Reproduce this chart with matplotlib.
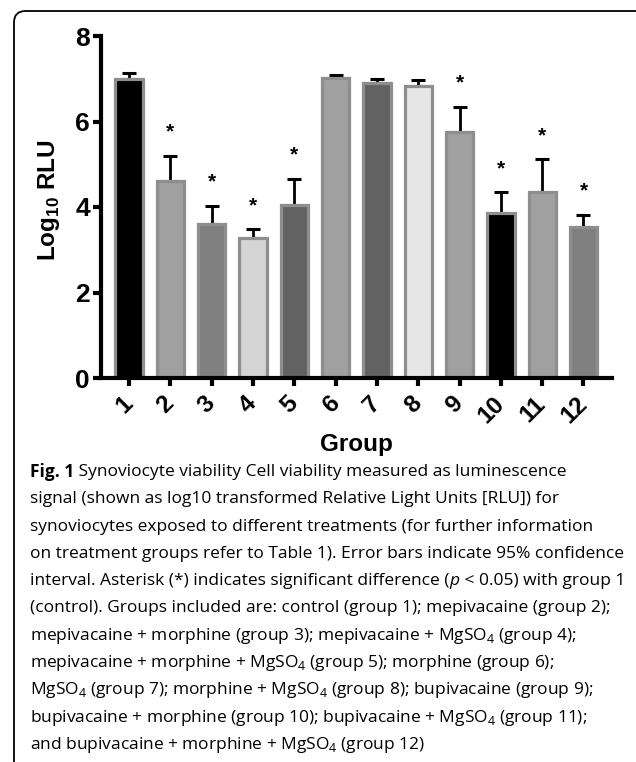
import matplotlib
matplotlib.use("Agg")
import matplotlib.pyplot as plt
from matplotlib import font_manager
from matplotlib.patches import FancyBboxPatch

groups = ["1", "2", "3", "4", "5", "6", "7", "8", "9", "10", "11", "12"]
means = [6.99, 4.61, 3.61, 3.27, 4.04, 7.01, 6.89, 6.84, 5.76, 3.86, 4.36, 3.53]
upper = [7.13, 5.20, 4.03, 3.48, 4.66, 7.09, 7.00, 6.96, 6.35, 4.35, 5.12, 3.82]
significant = [False, True, True, True, True, False, False, False, True, True, True, True]
fills = ["#000000", "#a0a0a0", "#808080", "#d4d4d4", "#626262", "#a0a0a0",
         "#626262", "#e6e6e6", "#a0a0a0", "#000000", "#a0a0a0", "#808080"]
yticks = [0, 2, 4, 6, 8]

caption_lines = [
    [("Fig. 1", "bold"), (" Synoviocyte viability Cell viability measured as luminescence", "normal")],
    [("signal (shown as log10 transformed Relative Light Units [RLU]) for", "normal")],
    [("synoviocytes exposed to different treatments (for further information", "normal")],
    [("on treatment groups refer to Table 1). Error bars indicate 95% confidence", "normal")],
    [("interval. Asterisk (*) indicates significant difference (", "normal"), ("p", "italic"),
     (" < 0.05) with group 1", "normal")],
    [("(control). Groups included are: control (group 1); mepivacaine (group 2);", "normal")],
    [("mepivacaine + morphine (group 3); mepivacaine + MgSO$_\\mathregular{4}$ (group 4);", "normal")],
    [("mepivacaine + morphine + MgSO$_\\mathregular{4}$ (group 5); morphine (group 6);", "normal")],
    [("MgSO$_\\mathregular{4}$ (group 7); morphine + MgSO$_\\mathregular{4}$ (group 8); bupivacaine (group 9);", "normal")],
    [("bupivacaine + morphine (group 10); bupivacaine + MgSO$_\\mathregular{4}$ (group 11);", "normal")],
    [("and bupivacaine + morphine + MgSO$_\\mathregular{4}$ (group 12)", "normal")],
]


def pick(names):
    for n in names:
        try:
            font_manager.findfont(n, fallback_to_default=False)
            return n
        except Exception:
            pass
    return "DejaVu Sans"


label_font = pick(["Liberation Sans Narrow", "Liberation Sans"])
cap_font = pick(["Open Sans", "Noto Sans"])

W, H = 636, 762
fig = plt.figure(figsize=(W / 100, H / 100), dpi=100)

# rounded frame
box = FancyBboxPatch((14 / W, -0.05), 1.0, 1 - 11 / H + 0.05,
                     boxstyle="round,pad=0,rounding_size=0.018",
                     transform=fig.transFigure, fill=False, ec="black", lw=1.3,
                     mutation_aspect=W / H)
fig.patches.append(box)

ax = fig.add_axes([101 / W, 1 - 378 / H, (612 - 101) / W, (378 - 36) / H])
x = list(range(1, len(groups) + 1))
err_up = [u - m for u, m in zip(upper, means)]
ax.errorbar(x, means, yerr=[[0] * len(means), err_up], fmt="none", ecolor="black",
            elinewidth=2.0, capsize=5, capthick=2.2, zorder=1)
ax.bar(x, means, width=0.66, color=fills, edgecolor="#8e8e8e", linewidth=2.3, zorder=2)

for xi, u, s in zip(x, upper, significant):
    if s:
        ax.text(xi, u + 0.42, "*", ha="center", va="baseline", fontsize=15,
                fontweight="bold", family=label_font)

ax.set_xlim(0.32, 12.69)
ax.set_ylim(0, 8)
ax.set_yticks(yticks)
ax.set_yticklabels([str(t) for t in yticks], fontsize=19, fontweight="bold", family=label_font)
ax.set_xticks(x)
ax.set_xticklabels(groups, rotation=45, ha="right", va="center", rotation_mode="anchor",
                   fontsize=17.5, fontweight="bold", family=label_font)
ax.tick_params(axis="both", width=3, length=6, color="black")
ax.tick_params(axis="x", pad=10)
ax.tick_params(axis="y", pad=2)
for side in ["top", "right"]:
    ax.spines[side].set_visible(False)
for side in ["left", "bottom"]:
    ax.spines[side].set_linewidth(3)
ax.spines["left"].set_bounds(0, 8)

ax.set_ylabel("Log$_\\mathregular{10}$ RLU", fontsize=17.5, fontweight="bold", family=label_font)
ax.yaxis.set_label_coords(-0.076, 0.52)
ax.set_xlabel("Group", fontsize=17.5, fontweight="bold", family=label_font)
ax.xaxis.set_label_coords(0.5, -0.162)

# caption
y0 = 472
dy = 27.3
fs = 12.55
fig.canvas.draw()
renderer = fig.canvas.get_renderer()
for i, parts in enumerate(caption_lines):
    xpix = 30
    ypix = y0 + i * dy
    for txt, style in parts:
        kw = dict(fontsize=fs, family=cap_font, va="center", ha="left")
        if style == "bold":
            kw["fontweight"] = "bold"
        elif style == "italic":
            kw["fontstyle"] = "italic"
        t = fig.text(xpix / W, 1 - ypix / H, txt, **kw)
        bb = t.get_window_extent(renderer)
        xpix += bb.width

fig.savefig("out.png", dpi=100)
